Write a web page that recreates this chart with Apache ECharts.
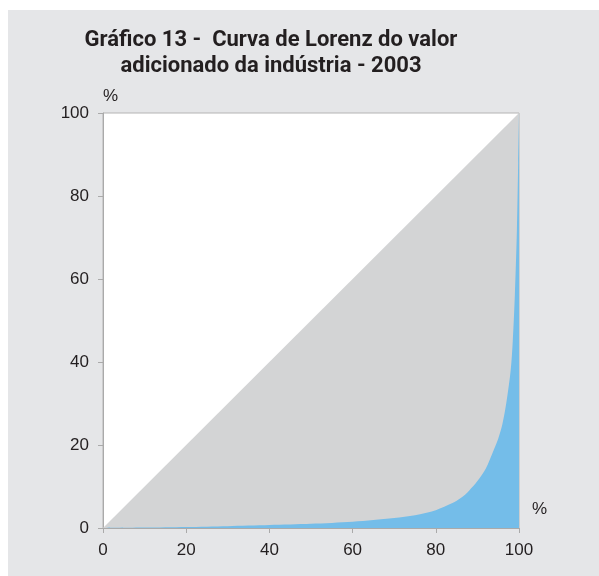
<!DOCTYPE html>
<html>
<head>
<meta charset="utf-8">
<script src="https://cdn.jsdelivr.net/npm/echarts@6/dist/echarts.min.js"></script>
<style>
    html, body {
        margin: 0;
        padding: 0;
        background: #ffffff;
    }
    #chart {
        position: absolute;
        left: 8px;
        top: 10px;
        width: 591px;
        height: 566px;
        background: #e5e6e8;
    }
</style>
</head>
<body>
<div id="chart"></div>
<script>
// eixo x: % acumulado de estabelecimentos, eixo y: % acumulado do valor adicionado
const lorenzX = [0, 10, 20, 30, 40, 50, 60, 65, 70, 75, 80, 84, 86, 88, 90, 92, 94, 95, 96, 97, 98, 98.5, 99, 99.5, 99.8, 100]
const lorenzY = [0, 0.1, 0.25, 0.45, 0.7, 1.0, 1.5, 1.9, 2.4, 3.1, 4.3, 6, 7.2, 9.0, 11.3, 14.3, 19, 21.5, 25, 30.5, 38, 45, 56, 72, 88, 100]
const equalX = [0, 100]
const equalY = [0, 100]

const titleText = 'Gráfico 13 -  Curva de Lorenz do valor\nadicionado da indústria - 2003'

const labelFont = {
    fontFamily: 'Liberation Sans, Arial, sans-serif',
    fontSize: 17,
    color: '#231f20',
}

const myChart = echarts.init(document.getElementById('chart'))

const option = {
    animation: false,
    title: {
        text: titleText,
        left: 258,
        top: 12,
        textAlign: 'center',
        textStyle: {
            fontFamily: 'Roboto, sans-serif',
            fontWeight: 'bold',
            fontSize: 22,
            lineHeight: 26,
            color: '#231f20',
        },
    },
    grid: {
        left: 95,
        top: 103,
        width: 416,
        height: 415,
        show: true,
        backgroundColor: '#ffffff',
        borderColor: '#b4b4b4',
        borderWidth: 1,
    },
    xAxis: {
        type: 'value',
        min: 0,
        max: 100,
        interval: 20,
        name: '%',
        nameLocation: 'end',
        nameGap: 13,
        nameTextStyle: {
            ...labelFont,
            verticalAlign: 'bottom',
            padding: [0, 0, 10, 0],
        },
        axisLine: {show: true, lineStyle: {color: '#aaaaaa', width: 1}},
        axisTick: {show: true, length: 5, lineStyle: {color: '#aaaaaa'}},
        axisLabel: {...labelFont, margin: 14},
        splitLine: {show: false},
    },
    yAxis: {
        type: 'value',
        min: 0,
        max: 100,
        interval: 20,
        name: '%',
        nameLocation: 'end',
        nameGap: 8,
        nameTextStyle: {
            ...labelFont,
            align: 'left',
        },
        axisLine: {show: true, lineStyle: {color: '#aaaaaa', width: 1}},
        axisTick: {show: true, length: 5, lineStyle: {color: '#aaaaaa'}},
        axisLabel: {...labelFont, margin: 14},
        splitLine: {show: false},
    },
    series: [
        {
            name: 'Igualdade',
            type: 'line',
            data: equalX.map((x, i) => [x, equalY[i]]),
            showSymbol: false,
            lineStyle: {width: 0},
            areaStyle: {color: '#d3d4d5', opacity: 1},
            z: 1,
        },
        {
            name: 'Curva de Lorenz',
            type: 'line',
            smooth: 0.3,
            data: lorenzX.map((x, i) => [x, lorenzY[i]]),
            showSymbol: false,
            lineStyle: {width: 0},
            areaStyle: {color: '#74bde9', opacity: 1},
            z: 2,
        },
    ],
}

myChart.setOption(option)
</script>
</body>
</html>
